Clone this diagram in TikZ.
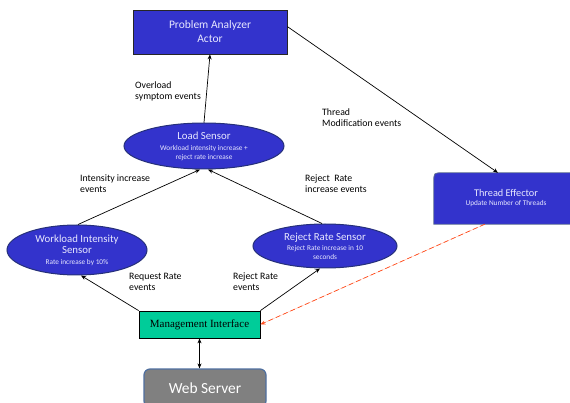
\documentclass[tikz,border=0pt]{standalone}
\usepackage{fontspec}
\setmainfont{Carlito}
\newfontfamily\timesf{Liberation Serif}
\usetikzlibrary{shapes.geometric,arrows.meta,calc,backgrounds}
\definecolor{boxblue}{HTML}{3333CC}
\definecolor{edgeblue}{HTML}{26307A}
\definecolor{txtlav}{HTML}{E8E8FF}
\definecolor{mgmtgreen}{HTML}{00CC99}
\definecolor{wsgray}{HTML}{808080}
\definecolor{wsedge}{HTML}{4F6F9F}
\definecolor{dashred}{HTML}{FF4A1A}
\definecolor{teedge}{HTML}{5A6A90}
\newcommand{\bigf}{\fontsize{10.8}{11}\selectfont}
\begin{document}
\begin{tikzpicture}[x=1pt,y=-1pt,
  bluebox/.style={rectangle,draw=black!85,line width=0.8pt,fill=boxblue,text=txtlav,align=center,inner sep=0pt},
  sensor/.style={ellipse,draw=edgeblue,line width=1pt,fill=boxblue,text=txtlav,align=center,inner sep=0pt,font=\fontsize{7.3}{9}\selectfont},
  lbl/.style={anchor=west,align=left,font=\fontsize{9.8}{11}\selectfont,inner sep=0pt},
  arr/.style={-{Stealth[length=5pt,width=4pt]},line width=0.7pt},
  dbl/.style={{Stealth[length=5pt,width=4pt]}-{Stealth[length=5pt,width=4pt]},line width=0.7pt}
]
\useasboundingbox (0,0) rectangle (570,403);
\clip (0,0) rectangle (570,403);

% nodes
\node[bluebox,minimum width=154pt,minimum height=44pt,font=\fontsize{11.5}{14}\selectfont] (pa) at (210,32) {Problem Analyzer\\Actor};
\node[sensor,minimum width=160pt,minimum height=46pt] (ls) at (204,146) {{\bigf Load Sensor}\\[2pt]Workload intensity increase +\\reject rate increase};
\node[sensor,minimum width=140pt,minimum height=50pt] (wis) at (77,250) {{\bigf Workload Intensity}\\[2pt]{\bigf Sensor}\\[2pt]Rate increase by 10\%};
\node[sensor,minimum width=144pt,minimum height=44pt] (rrs) at (325,246) {{\bigf Reject Rate Sensor}\\[1pt]Reject Rate increase in 10\\seconds};
\node[rectangle,minimum width=144pt,minimum height=51pt,inner sep=0pt,align=center,text=txtlav,font=\fontsize{7.3}{9}\selectfont] (te) at (506,198.5) {{\fontsize{10.3}{11}\selectfont Thread Effector}\\Update Number of Threads};
\begin{scope}[on background layer]
  \draw[fill=boxblue,draw=teedge,line width=0.8pt]
    (te.south east) -- (te.south west) -- ($(te.north west)+(0,9)$)
    .. controls (te.north west) .. ($(te.north west)+(9,0)$) -- (te.north east) -- cycle;
\end{scope}
\node[rectangle,draw=black,line width=0.8pt,fill=mgmtgreen,minimum width=121pt,minimum height=27pt,inner sep=0pt,font=\timesf\fontsize{11}{13}\selectfont] (mi) at (199.5,324.5) {Management Interface};
\node[rectangle,rounded corners=6pt,draw=wsedge,line width=1.2pt,fill=wsgray,text=white,minimum width=122pt,minimum height=38pt,inner sep=0pt,font=\fontsize{15.4}{17}\selectfont] (ws) at (205,388) {Web Server};

% connectors
\draw[arr] (ls.north) -- (pa.south);
\draw[arr] ($(pa.north east)+(0,17)$) -- ($(te.north)+(-8,0)$);
\draw[arr] ($(wis.north)+(1,0)$) -- ($(ls.south)+(-4,0)$);
\draw[arr] ($(rrs.north)+(-3,0)$) -- ($(ls.south)+(4,0)$);
\draw[arr] (mi.north west) -- ($(wis.south)+(4,0)$);
\draw[arr] (mi.north east) -- ($(rrs.south)+(-5,0)$);
\draw[arr,dashed,dash pattern=on 5pt off 3pt,draw=dashred,fill=dashred] ($(te.south west)+(51,0)$) -- (mi.east);
\draw[dbl] (mi.south) -- (mi.south |- ws.north);

% labels
\node[lbl] (l1) at (135,91.3) {Overload\\symptom events};
\node[lbl] (l2) at (322,118) {Thread\\Modification events};
\node[lbl] (l3) at (80,183.5) {Intensity increase\\events};
\node[lbl] (l4) at (305,183.5) {Reject\ \ Rate\\increase events};
\node[lbl] (l5) at (129,282) {Request Rate\\events};
\node[lbl] (l6) at (233,282) {Reject Rate\\events};
\end{tikzpicture}
\end{document}
